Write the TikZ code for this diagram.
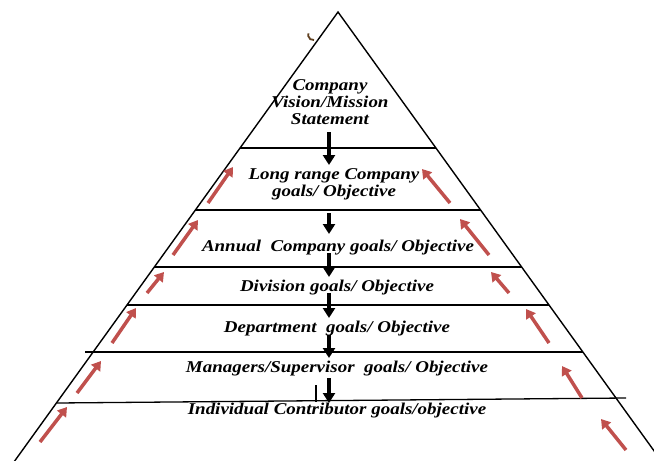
\documentclass[tikz,border=0pt]{standalone}
\usepackage{fontspec}
\setmainfont{Liberation Serif}
\newfontfamily\levelfont[FakeStretch=1.15]{Liberation Serif}
\usetikzlibrary{arrows.meta}
\definecolor{riser}{RGB}{192,80,77}

\begin{document}
\begin{tikzpicture}[x=1pt,y=-1pt,
	level/.style={font=\levelfont\fontsize{16.5}{17}\selectfont\bfseries\itshape,align=center,inner sep=0pt},
	flow/.style={line width=3.2pt,-{Triangle[length=10pt,width=12pt]}},
	rise/.style={riser,line width=3.5pt,-{Triangle[length=9pt,width=11pt]}}]
	\clip (0,0) rectangle (654,461);

	% pyramid outline
	\coordinate (top) at (338,12);
	\coordinate (bl) at (6,473);
	\coordinate (br) at (670,473);
	\draw[line width=1.4pt] (bl) -- (top) -- (br);

	% band lines
	\draw[line width=1.3pt] (240,148) -- (436,148);
	\draw[line width=1.3pt] (195,210) -- (481,210);
	\draw[line width=1.3pt] (154,267) -- (522,267);
	\draw[line width=1.3pt] (127,305) -- (549,305);
	\draw[line width=1.3pt] (85,352) -- (583,352);
	\draw[line width=1.3pt] (57,403) -- (626,398);

	\draw[line width=1.8pt,brown!50!black] (314,40) arc (80:200:5);
	\draw[line width=1.2pt] (316,385) -- (316,402);

	\node[level] (vision) at (330,102) {Company\\Vision/Mission\\Statement};
	\node[level] (longrange) at (334,184) {Long range Company\\goals/ Objective};
	\node[level] (annual) at (338,248) {Annual\ \ Company goals/ Objective};
	\node[level] (division) at (337,288) {Division goals/ Objective};
	\node[level] (department) at (337,329) {Department\ \ goals/ Objective};
	\node[level] (managers) at (337,369) {Managers/Supervisor\ \ goals/ Objective};
	\node[level] (individual) at (337,411) {Individual Contributor goals/objective};

	% downward flow
	\foreach \i/\s/\e in {1/132/165,2/213/234,3/253/277,4/293/318,5/335/358,6/378/403}{
		\coordinate (from\i) at (329,\s);
		\coordinate (to\i) at (329,\e);
		\draw[flow] (from\i) -- (to\i);
	}

	% upward arrows on both sides
	\foreach \a/\b/\c/\d in {208/203/233/167,173/255/198/220,147/293/164/272,
		112/343/136/308,77/393/101/361,40/442/67/407}
		\draw[rise] (\a,\b) -- (\c,\d);
	\foreach \a/\b/\c/\d in {450/203/422/169,489/255/460/219,509/293/491/272,
		549/343/526/309,582/398/562/366,626/450/601/419}
		\draw[rise] (\a,\b) -- (\c,\d);
\end{tikzpicture}
\end{document}
